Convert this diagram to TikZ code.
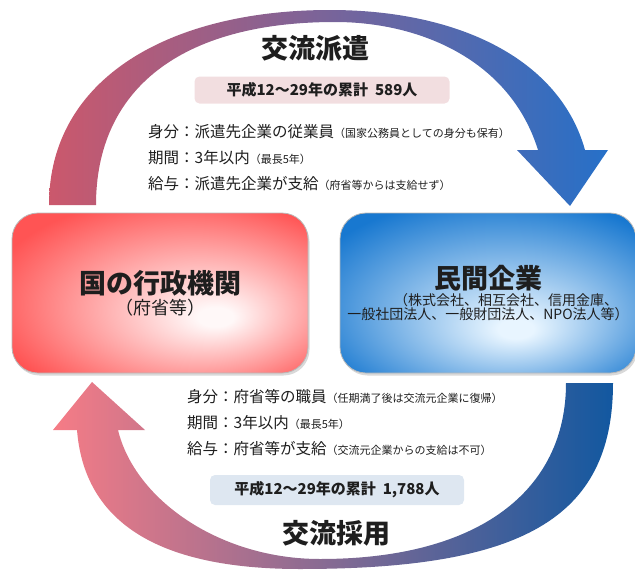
\documentclass[tikz,border=0pt]{standalone}
\usepackage{fontspec}
\setmainfont{Noto Sans CJK JP}
\usetikzlibrary{shadows}

\definecolor{govin}{RGB}{255,248,248}
\definecolor{govout}{RGB}{255,84,84}
\definecolor{firmin}{RGB}{232,245,255}
\definecolor{firmout}{RGB}{24,120,208}
\definecolor{sendL}{RGB}{203,88,108}
\definecolor{sendM}{RGB}{168,104,168}
\definecolor{sendR}{RGB}{38,112,200}
\definecolor{hireL}{RGB}{246,124,134}
\definecolor{hireM}{RGB}{158,112,160}
\definecolor{hireR}{RGB}{18,88,160}
\definecolor{sendtally}{RGB}{242,222,224}
\definecolor{hiretally}{RGB}{222,231,241}
\definecolor{ink}{RGB}{30,30,30}

\pgfdeclareradialshading{govglow}{\pgfpoint{10bp}{-8bp}}{color(0bp)=(govin); color(3bp)=(govin); color(33bp)=(govout); color(50bp)=(govout)}
\pgfdeclareradialshading{firmglow}{\pgfpoint{5bp}{-12bp}}{color(0bp)=(firmin); color(3bp)=(firmin); color(34bp)=(firmout); color(50bp)=(firmout)}

\newcommand{\aside}[1]{{\fontsize{11}{13}\selectfont #1}}

\tikzstyle{orgbox} = [rectangle, rounded corners=26pt, minimum width=296pt, minimum height=160pt, draw=gray!55, line width=0.8pt, align=center, text=ink, drop shadow={opacity=0.3, shadow xshift=1.5pt, shadow yshift=-2.5pt}]
\tikzstyle{tally} = [rectangle, rounded corners=5pt, inner sep=0pt, text=ink, font=\fontsize{15}{18}\selectfont\bfseries]
\tikzstyle{detail} = [anchor=west, inner sep=0pt, text=ink, font=\fontsize{15.5}{18}\selectfont]
\tikzstyle{heading} = [inner sep=0pt, text=ink, font=\fontsize{27}{30}\selectfont\bfseries]

\begin{document}
\begin{tikzpicture}[x=1pt, y=-1pt]
\useasboundingbox (0,0) rectangle (635,570);

% Arrows
\path [left color=sendL, middle color=sendM, right color=sendR]
  (49,205) .. controls (49,78) and (170,10) .. (330,10)
  .. controls (460,10) and (560,60) .. (585,150)
  -- (608,150) -- (570,206) -- (517,150) -- (538,150)
  .. controls (510,60) and (420,22) .. (335,22)
  .. controls (180,22) and (96,90) .. (96,205) -- cycle;

\path [left color=hireL, middle color=hireM, right color=hireR]
  (613,383) .. controls (613,520) and (520,569) .. (300,569)
  .. controls (170,569) and (85,530) .. (77,430)
  -- (53,430) -- (92,382) -- (145,430) -- (118,430)
  .. controls (135,500) and (220,559) .. (320,559)
  .. controls (480,559) and (566,490) .. (566,383) -- cycle;

% Boxes
\node (gov) [orgbox, shading=govglow] at (160,293)
  {{\fontsize{27}{30}\selectfont\bfseries 国の行政機関}\\[2pt]
   {\fontsize{18}{22}\selectfont （府省等）}};

\node (firm) [orgbox, shading=firmglow] at (488,293)
  {{\fontsize{27}{30}\selectfont\bfseries 民間企業}\\[1pt]
   {\fontsize{14}{16}\selectfont \hspace*{2.6em}（株式会社、相互会社、信用金庫、}\\
   {\fontsize{14}{16}\selectfont 一般社団法人、一般財団法人、NPO法人等）}};

% Dispatch side
\node (send-title) [heading] at (315,48) {交流派遣};
\node (send-tally) [tally, fill=sendtally, minimum width=255pt, minimum height=27pt] at (322,90) {平成12～29年の累計\ \ 589人};
\node (send-status) [detail] at (148,132) {身分：派遣先企業の従業員\aside{（国家公務員としての身分も保有）}};
\node (send-term) [detail] at (148,158) {期間：3年以内\aside{（最長5年）}};
\node (send-pay) [detail] at (148,184) {給与：派遣先企業が支給\aside{（府省等からは支給せず）}};

% Hiring side
\node (hire-status) [detail] at (187,397) {身分：府省等の職員\aside{（任期満了後は交流元企業に復帰）}};
\node (hire-term) [detail] at (187,423) {期間：3年以内\aside{（最長5年）}};
\node (hire-pay) [detail] at (187,449) {給与：府省等が支給\aside{（交流元企業からの支給は不可）}};
\node (hire-tally) [tally, fill=hiretally, minimum width=254pt, minimum height=30pt] at (337,490) {平成12～29年の累計\ \ 1,788人};
\node (hire-title) [heading] at (336,533) {交流採用};

\end{tikzpicture}
\end{document}
